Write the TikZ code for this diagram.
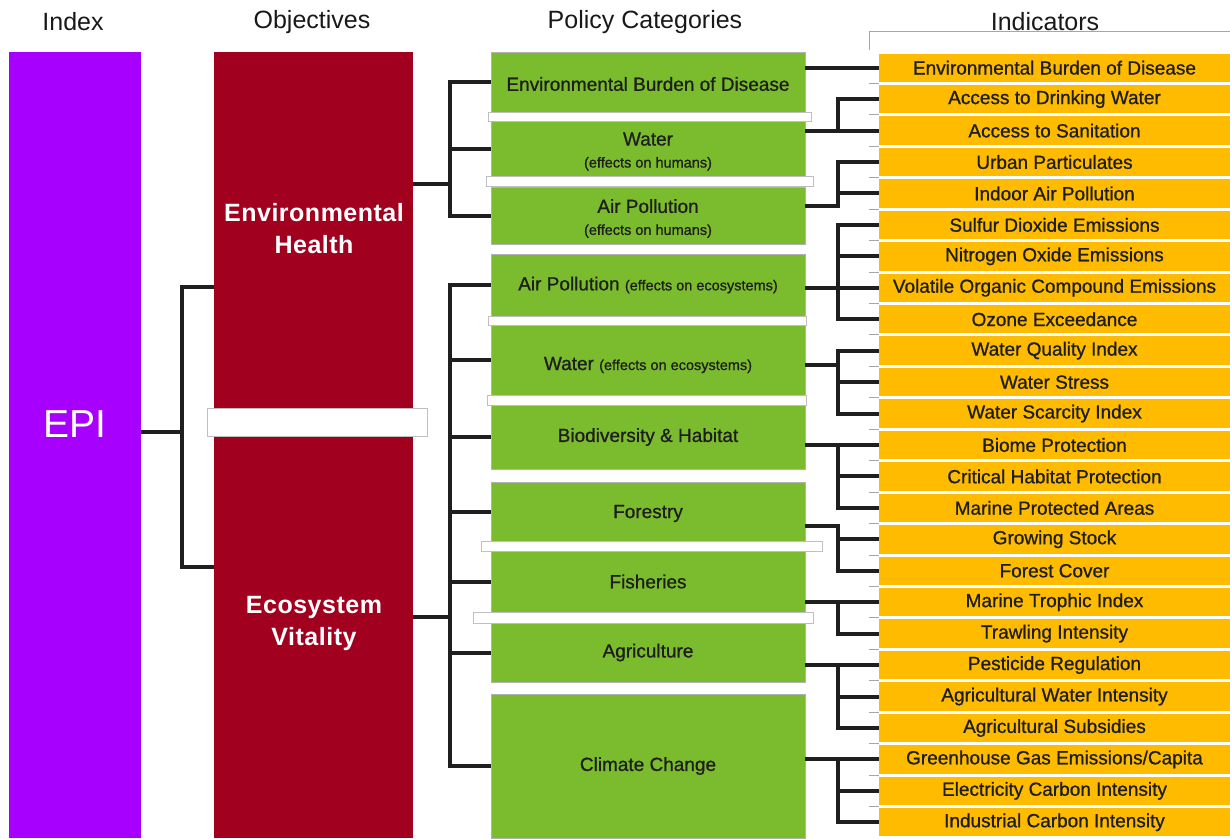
\documentclass[tikz,border=0pt]{standalone}
\usepackage{fontspec}
\setmainfont{Liberation Sans}
\newfontfamily\objfont[LetterSpace=2]{Liberation Sans}
\newfontfamily\medfont[FakeBold=0.9]{Liberation Sans}
\definecolor{epic}{HTML}{A800FF}
\definecolor{objc}{HTML}{A1001E}
\definecolor{grnc}{HTML}{7BBB2E}
\definecolor{orgc}{HTML}{FFBB00}
\definecolor{txtc}{HTML}{1E1E1E}
\newcommand\fsz[2]{\fontsize{#1}{#2}\selectfont}
\begin{document}
\begin{tikzpicture}[x=1pt,y=-1pt,
  bigbox/.style={rectangle, inner sep=0pt, outer sep=0pt, anchor=north west},
  gbox/.style={bigbox, fill=grnc, draw=black!30, line width=0.6pt, minimum width=314pt, text=txtc, font=\medfont\fsz{19}{22}, align=center},
  gtxt/.style={text=txtc, font=\medfont\fsz{19}{22}, align=center, inner sep=0pt},
  obox/.style={rectangle, inner sep=0pt, outer sep=0pt, fill=orgc, minimum width=351pt, minimum height=28.4pt, anchor=west, text=txtc, font=\medfont\fsz{19}{22}},
  gapbar/.style={fill=white, draw=black!25, line width=0.6pt},
  conn/.style={line width=4pt, draw=black!88},
  hdr/.style={font=\fsz{25}{30}, text=black!90},
  tickline/.style={draw=black!35, line width=1pt},
  objtxt/.style={text=white, font=\objfont\bfseries\fsz{25}{32}, align=center}
]
\useasboundingbox (0,0) rectangle (1230,838);

% headers
\node[hdr] (hidx) at (73,22) {Index};
\node[hdr] (hobj) at (312,22) {Objectives};
\node[hdr] (hpol) at (645,22) {Policy Categories};
\node[hdr] (hind) at (1045,22) {Indicators};
\draw[draw=black!35, line width=0.8pt] (869,50) -- (869,31) -- (1230,31);

% index
\node[bigbox, fill=epic, minimum width=132pt, minimum height=786pt] (epi) at (9,52) {};
\node[text=white, font=\fsz{39}{40}] (epit) at (75,424) {EPI};

% objectives
\node[bigbox, fill=objc, minimum width=199pt, minimum height=786pt] (obj) at (214,52) {};
\draw[gapbar] (207,408) rectangle (427,436);
\node[objtxt] (eh) at (314,229) {Environmental\\Health};
\node[objtxt] (ev) at (314,623) {Ecosystem\\Vitality};

% policy categories
\node[gbox, minimum height=60pt] (g1) at (491,52) {};
\node[gbox, minimum height=55pt] (g2) at (491,121) {};
\node[gbox, minimum height=57pt] (g3) at (491,187) {};
\node[gbox, minimum height=62pt] (g4) at (491,254) {Air Pollution {\fsz{14.5}{16}(effects on ecosystems)}};
\node[gbox, minimum height=70pt] (g5) at (491,325) {};
\node[gbox, minimum height=64pt] (g6) at (491,405) {Biodiversity \& Habitat};
\node[gbox, minimum height=59pt] (g7) at (491,482) {};
\node[gbox, minimum height=61pt] (g8) at (491,551) {Fisheries};
\node[gbox, minimum height=59pt] (g9) at (491,623) {Agriculture};
\node[gbox, minimum height=144pt] (g10) at (491,694) {Climate Change};

\node[gtxt] (g1t) at ([yshift=-2pt]g1.center) {Environmental Burden of Disease};
\node[gtxt] (g2t) at ([yshift=-3pt]g2.center) {Water\\[0pt]{\fsz{14.5}{16}(effects on humans)}};
\node[gtxt] (g3t) at ([yshift=-3pt]g3.center) {Air Pollution\\[0pt]{\fsz{14.5}{16}(effects on humans)}};
\node[gtxt] (g5t) at ([yshift=-5pt]g5.center) {Water {\fsz{14.5}{16}(effects on ecosystems)}};
\node[gtxt] (g7t) at ([yshift=-2pt]g7.center) {Forestry};

\draw[gapbar] (488,112) rectangle (811,121);
\draw[gapbar] (486,176) rectangle (813,186);
\draw[gapbar] (488,316) rectangle (806,325);
\draw[gapbar] (487,395) rectangle (806,405);
\draw[gapbar] (481,541) rectangle (822,551);
\draw[gapbar] (473,612) rectangle (813,623);

% indicators
\foreach \t [count=\i from 0] in {Environmental Burden of Disease, Access to Drinking Water, Access to Sanitation, Urban Particulates, Indoor Air Pollution, Sulfur Dioxide Emissions, Nitrogen Oxide Emissions, Volatile Organic Compound Emissions, Ozone Exceedance, Water Quality Index, Water Stress, Water Scarcity Index, Biome Protection, Critical Habitat Protection, Marine Protected Areas, Growing Stock, Forest Cover, Marine Trophic Index, Trawling Intensity, Pesticide Regulation, Agricultural Water Intensity, Agricultural Subsidies, Greenhouse Gas Emissions/Capita, Electricity Carbon Intensity, Industrial Carbon Intensity}
  {\node[obox] (o\i) at (879,{52+31.44*\i+15.72}) {\t};}
\foreach \i in {1,...,24}
  {\draw[tickline] (869,{52+31.44*\i}) -- (879,{52+31.44*\i});}

% trunk coordinates
\coordinate (te) at (182,0);
\coordinate (ta) at (450,0);
\coordinate (tx) at (838,0);

% EPI -> objectives
\draw[conn] (epi.east |- 0,432) -- (te |- 0,432);
\draw[conn] (obj.west |- 0,287) -| (te |- 0,567) -- (obj.west |- 0,567);

% Environmental Health -> categories
\draw[conn] (obj.east |- 0,184) -- (ta |- 0,184);
\draw[conn] (g1.west) -| (ta |- g3.west) -- (g3.west);
\draw[conn] (ta |- g2.west) -- (g2.west);

% Ecosystem Vitality -> categories
\draw[conn] (obj.east |- 0,617) -- (ta |- 0,617);
\draw[conn] (g4.west) -| (ta |- g10.west) -- (g10.west);
\foreach \n in {5,...,9}
  {\draw[conn] (ta |- g\n.west) -- (g\n.west);}

% categories -> indicators
\draw[conn] (g1.east |- o0.west) -- (o0.west);

\draw[conn] (g2.east |- o2.west) -- (o2.west);
\draw[conn] (o1.west) -| (tx |- o2.west);

\draw[conn] (g3.east |- 0,206) -| (tx |- o3.west) -- (o3.west);
\draw[conn] (tx |- o4.west) -- (o4.west);

\draw[conn] (g4.east |- o7.west) -- (o7.west);
\draw[conn] (o5.west) -| (tx |- o8.west) -- (o8.west);
\draw[conn] (tx |- o6.west) -- (o6.west);

\draw[conn] (g5.east |- 0,365) -- (tx |- 0,365);
\draw[conn] (o9.west) -| (tx |- o11.west) -- (o11.west);
\draw[conn] (tx |- o10.west) -- (o10.west);

\draw[conn] (g6.east |- o12.west) -- (o12.west);
\draw[conn] (tx |- o12.west) |- (o14.west);
\draw[conn] (tx |- o13.west) -- (o13.west);

\draw[conn] (g7.east |- 0,526) -| (tx |- o16.west) -- (o16.west);
\draw[conn] (tx |- o15.west) -- (o15.west);

\draw[conn] (g8.east |- o17.west) -- (o17.west);
\draw[conn] (tx |- o17.west) |- (o18.west);

\draw[conn] (g9.east |- o19.west) -- (o19.west);
\draw[conn] (tx |- o19.west) |- (o21.west);
\draw[conn] (tx |- o20.west) -- (o20.west);

\draw[conn] (g10.east |- o22.west) -- (o22.west);
\draw[conn] (tx |- o22.west) |- (o24.west);
\draw[conn] (tx |- o23.west) -- (o23.west);
\end{tikzpicture}
\end{document}
